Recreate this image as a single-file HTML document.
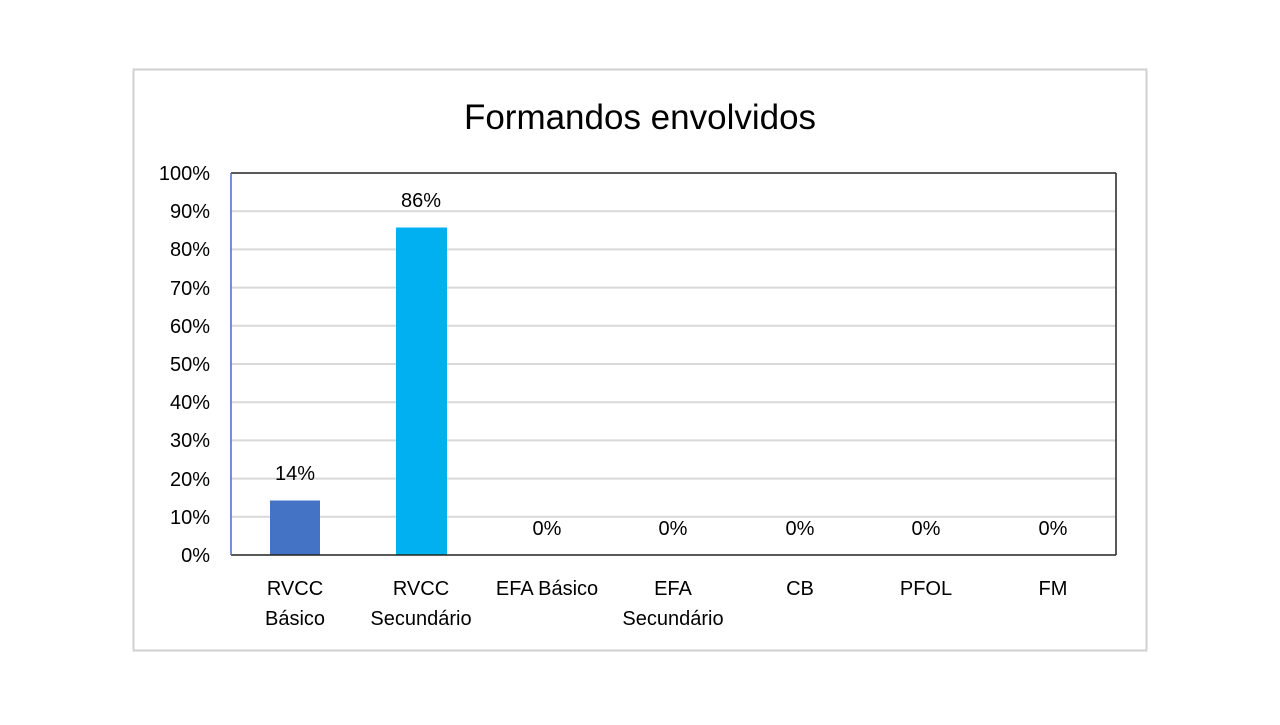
<!DOCTYPE html>
<html><head><meta charset="utf-8"><style>html,body{margin:0;padding:0;background:#fff;}</style></head>
<body>
<svg width="1280" height="720" xmlns="http://www.w3.org/2000/svg" font-family="Liberation Sans, sans-serif">
<rect x="0" y="0" width="1280" height="720" fill="#fff"/>
<rect x="133.5" y="69.5" width="1013" height="581" fill="#fff" stroke="#d0d0d0" stroke-width="2"/>
<text x="640" y="129" font-size="35" text-anchor="middle" fill="#000">Formandos envolvidos</text>
<g stroke="#d9d9d9" stroke-width="2">
<line x1="231" x2="1116" y1="516.8" y2="516.8"/>
<line x1="231" x2="1116" y1="478.6" y2="478.6"/>
<line x1="231" x2="1116" y1="440.4" y2="440.4"/>
<line x1="231" x2="1116" y1="402.2" y2="402.2"/>
<line x1="231" x2="1116" y1="364" y2="364"/>
<line x1="231" x2="1116" y1="325.8" y2="325.8"/>
<line x1="231" x2="1116" y1="287.6" y2="287.6"/>
<line x1="231" x2="1116" y1="249.4" y2="249.4"/>
<line x1="231" x2="1116" y1="211.2" y2="211.2"/>
</g>
<rect x="270" y="500.5" width="50" height="54.5" fill="#4472c4"/>
<rect x="396" y="227.5" width="51" height="327.5" fill="#00b0f0"/>
<line x1="231" x2="1116" y1="173" y2="173" stroke="#222" stroke-width="1.5"/>
<line x1="1116" x2="1116" y1="173" y2="555" stroke="#222" stroke-width="1.5"/>
<line x1="231" x2="1116" y1="555" y2="555" stroke="#222" stroke-width="1.5"/>
<line x1="231" x2="231" y1="173" y2="555" stroke="#4472c4" stroke-width="1.5"/>
<g font-size="20" text-anchor="end" fill="#000">
<text x="210" y="562">0%</text><text x="210" y="524">10%</text><text x="210" y="486">20%</text>
<text x="210" y="447">30%</text><text x="210" y="409">40%</text><text x="210" y="371">50%</text>
<text x="210" y="333">60%</text><text x="210" y="295">70%</text><text x="210" y="256">80%</text>
<text x="210" y="218">90%</text><text x="210" y="180">100%</text>
</g>
<g font-size="20" text-anchor="middle" fill="#000">
<text x="295" y="480">14%</text><text x="421" y="207">86%</text>
<text x="547" y="535">0%</text><text x="673" y="535">0%</text><text x="800" y="535">0%</text><text x="926" y="535">0%</text><text x="1053" y="535">0%</text>
<text x="295" y="595">RVCC</text><text x="295" y="625">Básico</text>
<text x="421" y="595">RVCC</text><text x="421" y="625">Secundário</text>
<text x="547" y="595">EFA Básico</text>
<text x="673" y="595">EFA</text><text x="673" y="625">Secundário</text>
<text x="800" y="595">CB</text><text x="926" y="595">PFOL</text><text x="1053" y="595">FM</text>
</g>
</svg>
</body></html>
